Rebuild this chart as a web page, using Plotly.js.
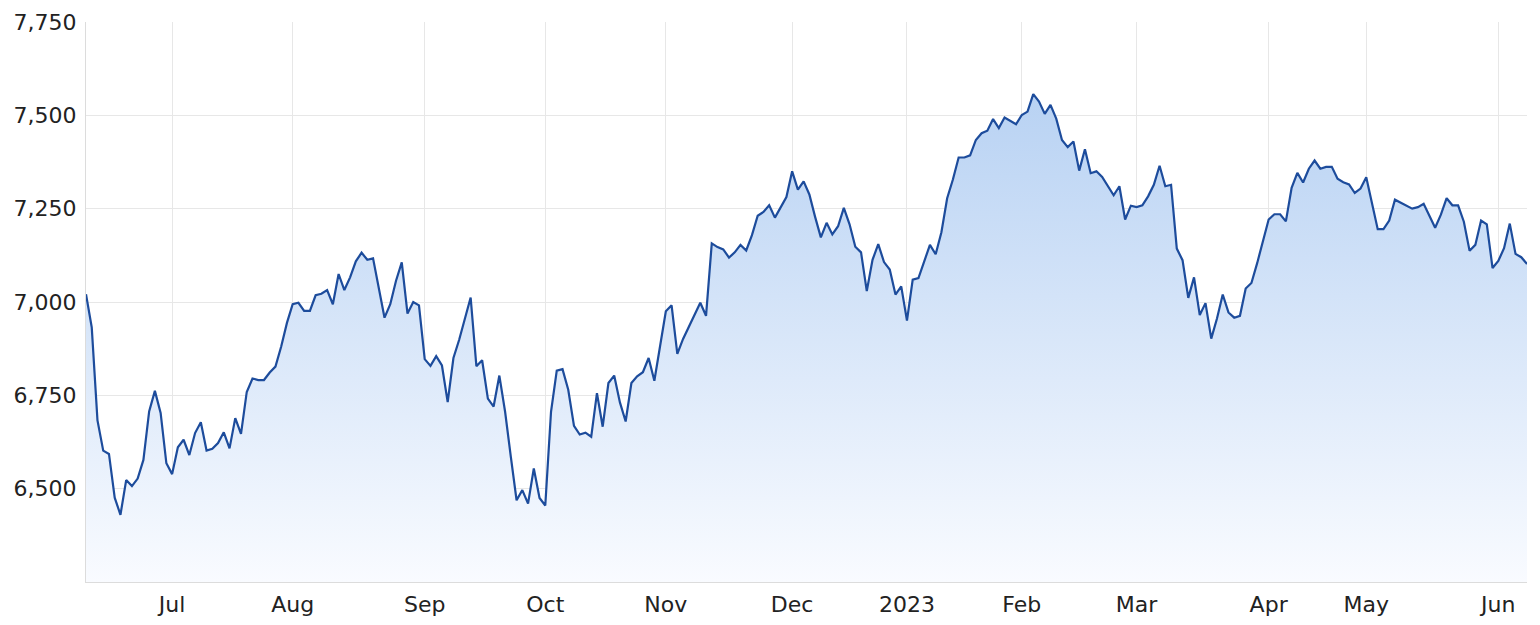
<!DOCTYPE html>
<html>
<head>
<meta charset="utf-8">
<script src="https://cdn.plot.ly/plotly-3.0.1.min.js"></script>
<style>
html,body{margin:0;padding:0;background:#fff;}
#chart{width:1540px;height:625px;}
</style>
</head>
<body>
<div id="chart"></div>
<script>
// Trading days shown in each month (Jun 2022 partial ... Jun 2023 partial)
const monthLabels = ['Jun','Jul','Aug','Sep','Oct','Nov','Dec','2023','Feb','Mar','Apr','May','Jun'];
const tradingDaysPerMonth = [15,21,23,21,21,22,20,20,20,23,17,23,6];

// Daily closing values (one per trading day)
const jun22 = [7021,6932,6683,6602,6593,6476,6430,6523,6507,6527,6577,6707,6762,6703,6568];
const jul22 = [6539,6611,6631,6590,6649,6678,6602,6607,6622,6651,6608,6689,6647,6759,6795,6791,6791,6811,6827,6881,6944];
const aug22 = [6994,6998,6976,6976,7018,7022,7032,6994,7075,7032,7066,7109,7132,7113,7117,7040,6958,6994,7057,7106,6969,7000,6991];
const sep22 = [6847,6829,6855,6830,6732,6850,6899,6958,7012,6828,6844,6741,6720,6803,6706,6585,6469,6496,6460,6554,6475];
const oct22 = [6455,6706,6816,6820,6765,6668,6645,6650,6639,6756,6666,6783,6803,6731,6680,6783,6801,6812,6850,6789,6882];
const nov22 = [6975,6991,6861,6901,6932,6963,6998,6963,7157,7147,7141,7119,7133,7153,7138,7179,7231,7241,7259,7226,7254,7281];
const dec22 = [7350,7301,7323,7288,7228,7173,7212,7181,7203,7252,7208,7148,7133,7029,7113,7155,7107,7087,7020,7042];
const jan23 = [6950,7060,7064,7110,7153,7128,7187,7278,7328,7387,7387,7393,7434,7452,7459,7490,7466,7494,7484,7476];
const feb23 = [7501,7510,7557,7537,7504,7528,7491,7434,7415,7430,7352,7409,7345,7350,7335,7310,7286,7310,7221,7258];
const mar23 = [7254,7259,7283,7314,7365,7310,7314,7143,7112,7011,7066,6965,6997,6902,6956,7020,6972,6958,6963,7036,7051,7104,7166];
const apr23 = [7221,7235,7235,7216,7306,7346,7320,7357,7379,7357,7362,7362,7330,7321,7315,7292,7304];
const may23 = [7334,7268,7195,7195,7218,7274,7266,7256,7250,7254,7263,7231,7199,7234,7278,7259,7259,7215,7137,7153,7218,7208,7091];
const jun23 = [7110,7144,7210,7129,7120,7102];

const yTicks = [6500,6750,7000,7250,7500,7750];
const yMin = 6250, yMax = 7750;

const values = [].concat(jun22,jul22,aug22,sep22,oct22,nov22,dec22,jan23,feb23,mar23,apr23,may23,jun23);
const xs = values.map((_, i) => i);

// month-start positions (skip the partial first month)
const tickPos = [];
const tickText = [];
let cum = 0;
tradingDaysPerMonth.forEach((n, i) => {
  if (i > 0) { tickPos.push(cum); tickText.push(monthLabels[i]); }
  cum += n;
});

const trace = {
  x: xs,
  y: values,
  type: 'scatter',
  mode: 'lines',
  line: {color: '#1d4c9c', width: 2.2},
  fill: 'tozeroy',
  fillgradient: {
    type: 'vertical',
    start: yMin,
    stop: 7560,
    colorscale: [[0, 'rgba(249,251,255,1)'], [1, 'rgba(184,210,243,1)']]
  },
  hoverinfo: 'skip'
};

const font = {family: '"DejaVu Sans", Verdana, sans-serif', size: 22, color: '#222'};

const layout = {
  width: 1540,
  height: 625,
  margin: {l: 86, r: 13, t: 22, b: 43},
  paper_bgcolor: '#fff',
  plot_bgcolor: '#fff',
  showlegend: false,
  font: font,
  xaxis: {
    range: [0, values.length - 1],
    tickvals: tickPos,
    ticktext: tickText,
    showgrid: true,
    gridcolor: '#e7e7e7',
    gridwidth: 1,
    zeroline: false,
    showline: true,
    linecolor: '#dcdcdc',
    linewidth: 1,
    ticks: '',
    ticklabelstandoff: 3,
    tickfont: font,
    fixedrange: true
  },
  yaxis: {
    range: [yMin, yMax],
    tickvals: yTicks,
    ticktext: yTicks.map(v => v.toLocaleString('en-US')),
    showgrid: true,
    gridcolor: '#e7e7e7',
    gridwidth: 1,
    zeroline: false,
    showline: true,
    linecolor: '#dcdcdc',
    linewidth: 1,
    ticks: '',
    ticklabelstandoff: 4,
    tickfont: font,
    fixedrange: true
  }
};

Plotly.newPlot('chart', [trace], layout, {displayModeBar: false, staticPlot: true});
</script>
</body>
</html>
